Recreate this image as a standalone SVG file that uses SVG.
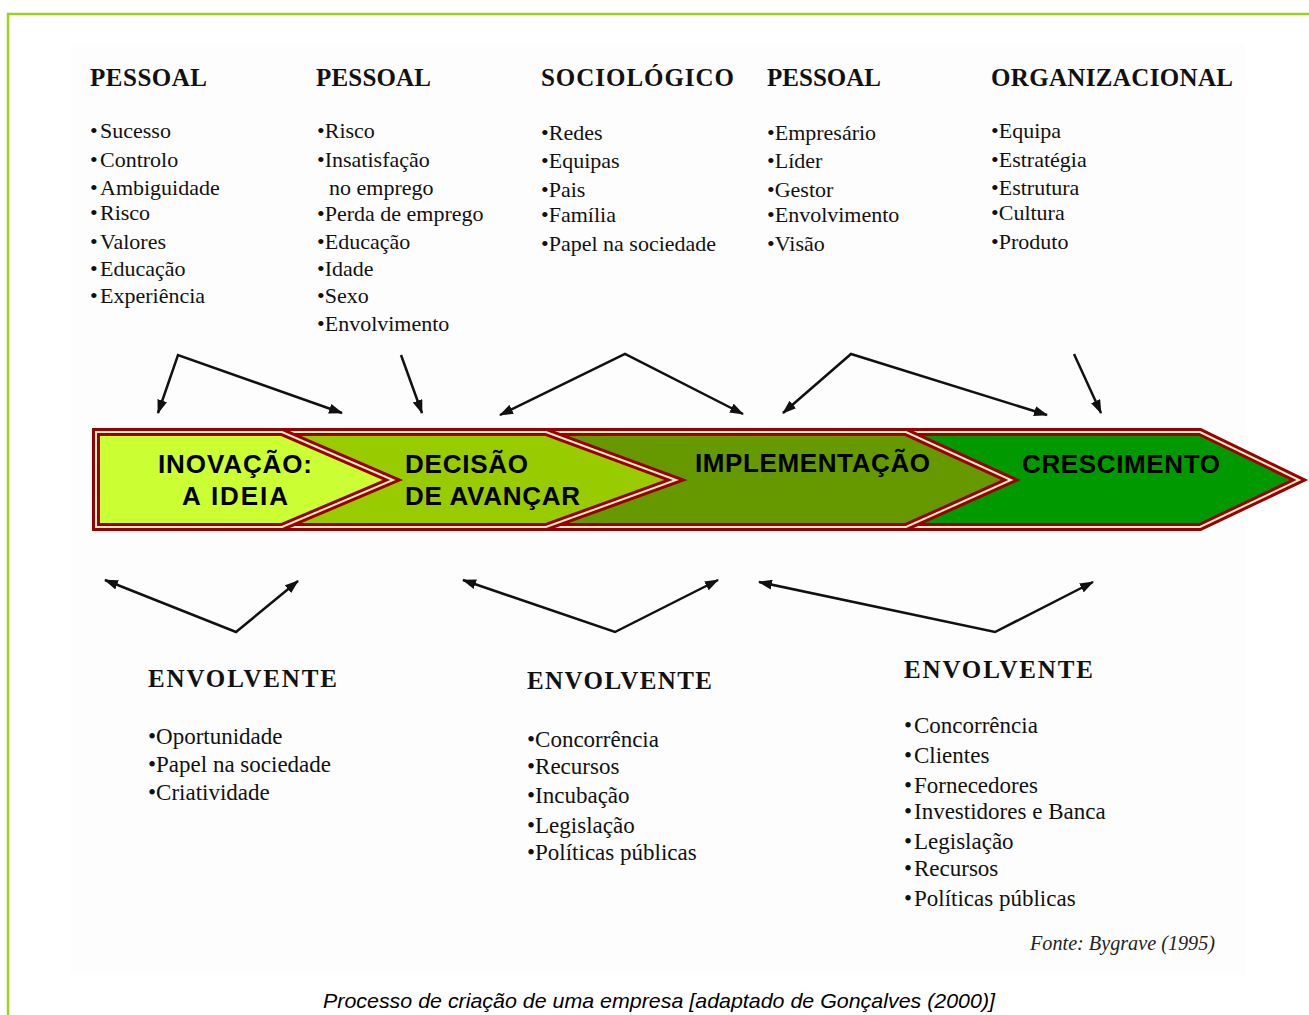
<svg xmlns="http://www.w3.org/2000/svg" width="1309" height="1015" viewBox="0 0 1309 1015">
<defs>
<style>
.hd{font-family:"Liberation Serif","Times New Roman",serif;font-weight:bold;font-size:25px;fill:#111}
.ls{font-family:"Liberation Serif","Times New Roman",serif;font-size:22px;fill:#111}
.lb{font-family:"Liberation Serif","Times New Roman",serif;font-size:23px;fill:#111}
.bt{font-family:"Liberation Sans",Arial,sans-serif;font-weight:bold;font-size:26px;fill:#000}
.bo{stroke:#990000;stroke-width:8;stroke-linejoin:miter}
.bi{fill:none;stroke:#f3eec8;stroke-width:2}
.cn{fill:none;stroke:#111;stroke-width:2.5;marker-end:url(#ah)}
.cn2{fill:none;stroke:#111;stroke-width:2.5;marker-start:url(#ah);marker-end:url(#ah)}
</style>
<marker id="ah" viewBox="0 0 14 10" refX="13" refY="5" markerWidth="14" markerHeight="10" markerUnits="userSpaceOnUse" orient="auto-start-reverse">
<path d="M0,0 L14,5 L0,10 z" fill="#111"/>
</marker>
</defs>
<rect x="0" y="0" width="1309" height="1015" fill="#ffffff"/>
<rect x="70" y="45" width="1175" height="930" fill="#fdfdfd"/>
<path d="M8,1015 V14 H1309" fill="none" stroke="#9fd11a" stroke-width="2.5"/>

<g id="band">
<g id="stage4">
<path class="bo" d="M900,432 H1200 L1299,480 L1200,527 H900 Z" fill="#009900"/>
<path class="bi" d="M900,432 H1200 L1299,480 L1200,527 H900 Z"/>
<text class="bt" x="1022" y="473" textLength="198" lengthAdjust="spacing">CRESCIMENTO</text>
</g>
<g id="stage3">
<path class="bo" d="M500,432 H906 L1011,480 L906,527 H500 Z" fill="#669900"/>
<path class="bi" d="M500,432 H906 L1011,480 L906,527 H500 Z"/>
<text class="bt" x="695" y="472" textLength="235" lengthAdjust="spacing">IMPLEMENTAÇÃO</text>
</g>
<g id="stage2">
<path class="bo" d="M200,432 H546 L676,480 L546,527 H200 Z" fill="#99cc00"/>
<path class="bi" d="M200,432 H546 L676,480 L546,527 H200 Z"/>
<text class="bt" x="405" y="473" textLength="123" lengthAdjust="spacing">DECISÃO</text>
<text class="bt" x="405" y="505" textLength="175" lengthAdjust="spacing">DE AVANÇAR</text>
</g>
<g id="stage1">
<path class="bo" d="M96,432 H282 L393,480 L282,527 H96 Z" fill="#ccff33"/>
<path class="bi" d="M96,432 H282 L393,480 L282,527 H96 Z"/>
<text class="bt" x="158" y="473" textLength="154" lengthAdjust="spacing">INOVAÇÃO:</text>
<text class="bt" x="182" y="505" textLength="106" lengthAdjust="spacing">A IDEIA</text>
</g>
</g>

<g id="col1">
<text class="hd" x="90" y="86" textLength="117" lengthAdjust="spacing">PESSOAL</text>
<text class="ls"><tspan x="90" y="138">•</tspan><tspan x="100" y="138">Sucesso</tspan><tspan x="90" y="167">•</tspan><tspan x="100" y="167">Controlo</tspan><tspan x="90" y="195">•</tspan><tspan x="100" y="195">Ambiguidade</tspan><tspan x="90" y="220">•</tspan><tspan x="100" y="220">Risco</tspan><tspan x="90" y="249">•</tspan><tspan x="100" y="249">Valores</tspan><tspan x="90" y="276">•</tspan><tspan x="100" y="276">Educação</tspan><tspan x="90" y="303">•</tspan><tspan x="100" y="303">Experiência</tspan></text>
</g>
<g id="col2">
<text class="hd" x="316" y="86" textLength="115" lengthAdjust="spacing">PESSOAL</text>
<text class="ls"><tspan x="317" y="138">•Risco</tspan><tspan x="317" y="167">•Insatisfação</tspan><tspan x="329" y="195">no emprego</tspan><tspan x="317" y="221">•Perda de emprego</tspan><tspan x="317" y="249">•Educação</tspan><tspan x="317" y="276">•Idade</tspan><tspan x="317" y="303">•Sexo</tspan><tspan x="317" y="331">•Envolvimento</tspan></text>
</g>
<g id="col3">
<text class="hd" x="541" y="86" textLength="193" lengthAdjust="spacing">SOCIOLÓGICO</text>
<text class="ls"><tspan x="541" y="140">•Redes</tspan><tspan x="541" y="168">•Equipas</tspan><tspan x="541" y="197">•Pais</tspan><tspan x="541" y="222">•Família</tspan><tspan x="541" y="251">•Papel na sociedade</tspan></text>
</g>
<g id="col4">
<text class="hd" x="767" y="86" textLength="114" lengthAdjust="spacing">PESSOAL</text>
<text class="ls"><tspan x="767" y="140">•Empresário</tspan><tspan x="767" y="168">•Líder</tspan><tspan x="767" y="197">•Gestor</tspan><tspan x="767" y="222">•Envolvimento</tspan><tspan x="767" y="251">•Visão</tspan></text>
</g>
<g id="col5">
<text class="hd" x="991" y="86" textLength="242" lengthAdjust="spacing">ORGANIZACIONAL</text>
<text class="ls"><tspan x="991" y="138">•Equipa</tspan><tspan x="991" y="167">•Estratégia</tspan><tspan x="991" y="195">•Estrutura</tspan><tspan x="991" y="220">•Cultura</tspan><tspan x="991" y="249">•Produto</tspan></text>
</g>

<g id="env1">
<text class="hd" x="148" y="687" textLength="189" lengthAdjust="spacing">ENVOLVENTE</text>
<text class="lb"><tspan x="148" y="744">•Oportunidade</tspan><tspan x="148" y="772">•Papel na sociedade</tspan><tspan x="148" y="800">•Criatividade</tspan></text>
</g>
<g id="env2">
<text class="hd" x="527" y="689" textLength="185" lengthAdjust="spacing">ENVOLVENTE</text>
<text class="lb"><tspan x="527" y="747">•Concorrência</tspan><tspan x="527" y="774">•Recursos</tspan><tspan x="527" y="803">•Incubação</tspan><tspan x="527" y="833">•Legislação</tspan><tspan x="527" y="860">•Políticas públicas</tspan></text>
</g>
<g id="env3">
<text class="hd" x="904" y="678" textLength="189" lengthAdjust="spacing">ENVOLVENTE</text>
<text class="lb"><tspan x="904" y="733">•</tspan><tspan x="914" y="733">Concorrência</tspan><tspan x="904" y="763">•</tspan><tspan x="914" y="763">Clientes</tspan><tspan x="904" y="793">•</tspan><tspan x="914" y="793">Fornecedores</tspan><tspan x="904" y="819">•</tspan><tspan x="914" y="819">Investidores e Banca</tspan><tspan x="904" y="849">•</tspan><tspan x="914" y="849">Legislação</tspan><tspan x="904" y="876">•</tspan><tspan x="914" y="876">Recursos</tspan><tspan x="904" y="906">•</tspan><tspan x="914" y="906">Políticas públicas</tspan></text>
</g>

<g id="connectors">
<path class="cn2" d="M158,413 L178,355 L342,413"/>
<path class="cn" d="M401,355 L422,413"/>
<path class="cn2" d="M500,415 L625,354 L743,414"/>
<path class="cn2" d="M783,413 L851,354 L1047,415"/>
<path class="cn" d="M1074,354 L1101,413"/>
<path class="cn2" d="M105,580 L236,632 L298,581"/>
<path class="cn2" d="M463,580 L615,632 L718,580"/>
<path class="cn2" d="M759,582 L995,632 L1093,582"/>
</g>

<text x="1030" y="950" textLength="185" lengthAdjust="spacingAndGlyphs" style="font-family:'Liberation Serif','Times New Roman',serif;font-style:italic;font-size:20px;fill:#222">Fonte: Bygrave (1995)</text>
<text x="323" y="1008" textLength="672" lengthAdjust="spacingAndGlyphs" style="font-family:'Liberation Sans',Arial,sans-serif;font-style:italic;font-size:21px;fill:#000">Processo de criação de uma empresa [adaptado de Gonçalves (2000)]</text>
</svg>
